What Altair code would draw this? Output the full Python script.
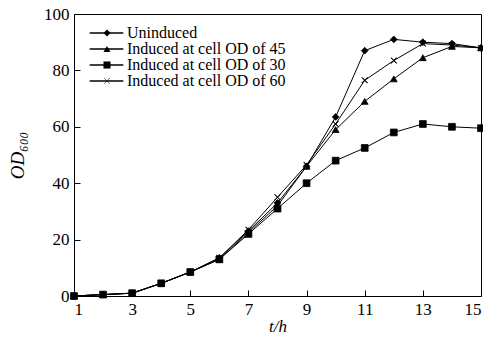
import altair as alt
import pandas as pd

hours = list(range(1, 16))
series_names = [
    "Uninduced",
    "Induced at cell OD of 45",
    "Induced at cell OD of 30",
    "Induced at cell OD of 60",
]
uninduced = [0, 0.5, 1, 4.5, 8.5, 13.5, 23, 33, 46, 63.5, 87, 91, 90, 89.5, 88]
od45 = [0, 0.5, 1, 4.5, 8.5, 13, 22.5, 32, 46, 59, 69, 77, 84.5, 88.5, 88]
od30 = [0, 0.5, 1, 4.5, 8.5, 13, 22, 31, 40, 48, 52.5, 58, 61, 60, 59.5]
od60 = [0, 0.5, 1, 4.5, 8.5, 13.5, 23.5, 35, 46.5, 61, 76.5, 83.5, 89.5, 89, 88]
x_ticks = [1, 3, 5, 7, 9, 11, 13, 15]
y_ticks = [0, 20, 40, 60, 80, 100]

line_keys = ["line " + n for n in series_names]

rows = []
for name, key, vals in zip(series_names, line_keys, [uninduced, od45, od30, od60]):
    for h, v in zip(hours, vals):
        rows.append({"t": h, "od": v, "series": name, "series2": key})
df = pd.DataFrame(rows)

FONT = "Liberation Serif"
FS = 17
LFS = 16
X_SHAPE = ("M-0.76,-0.84L0.84,0.76L0.76,0.84L-0.84,-0.76Z"
           "M-0.84,0.76L0.76,-0.84L0.84,-0.76L-0.76,0.84Z")
shapes = ["diamond", "triangle-up", "square", X_SHAPE]

x = alt.X("t:Q", scale=alt.Scale(domain=[1, 15], nice=False),
          axis=alt.Axis(values=x_ticks, title="t/h", titleFontStyle="italic",
                        offset=-6, tickSize=6, domain=False, grid=False,
                        labelPadding=5, titlePadding=1))
y = alt.Y("od:Q", scale=alt.Scale(domain=[0, 100], nice=False),
          axis=alt.Axis(values=y_ticks, title="OD₆₀₀", titleFontStyle="italic",
                        offset=-6, tickSize=6, domain=False, grid=False,
                        labelPadding=5, titlePadding=16, titleFontSize=19))

lines = alt.Chart(df).mark_line(strokeWidth=1, color="black").encode(
    x=x, y=y,
    color=alt.Color("series2:N",
                    scale=alt.Scale(domain=line_keys, range=["black"] * 4),
                    legend=alt.Legend(orient="none", legendX=24.5, legendY=11,
                                      title=None, symbolType="M-4.2,0H4.2",
                                      symbolSize=64, symbolStrokeWidth=1.4,
                                      labelExpr="''", labelFontSize=LFS,
                                      labelFont=FONT, rowPadding=0,
                                      padding=0)),
)

points = alt.Chart(df).mark_point(filled=True, fill="black", stroke="black",
                                  strokeWidth=0.8, opacity=1, size=46).encode(
    x=x, y=y,
    shape=alt.Shape("series:N",
                    scale=alt.Scale(domain=series_names, range=shapes),
                    legend=alt.Legend(orient="none", legendX=25, legendY=11,
                                      title=None, symbolSize=50,
                                      symbolFillColor="black",
                                      symbolStrokeColor="black",
                                      symbolStrokeWidth=0.8,
                                      labelFontSize=LFS, labelFont=FONT,
                                      labelColor="black", labelOffset=12,
                                      labelLimit=400,
                                      rowPadding=0, padding=0)),
)

chart = alt.layer(lines, points).properties(
    width=407, height=282,
    background="white",
    autosize=alt.AutoSizeParams(type="none"),
    padding={"left": 66, "top": 6, "right": 2, "bottom": 38},
).configure_view(stroke="black", strokeWidth=1).configure_axis(
    labelFont=FONT, titleFont=FONT, labelFontSize=FS, titleFontSize=17,
    labelColor="black", titleColor="black", tickColor="black",
    titleFontWeight="normal",
)

chart.save("out.html", embed_options={"renderer": "svg", "actions": False})
